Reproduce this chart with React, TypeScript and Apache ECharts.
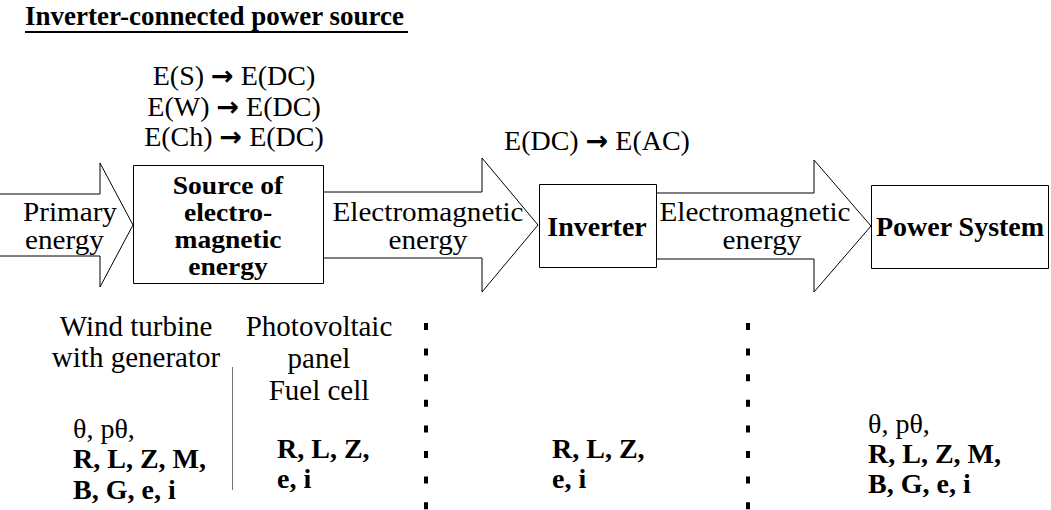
import React, { useEffect, useRef } from "react";
import * as echarts from "echarts";

// ---- Diagram content ----
const titleText = "Inverter-connected power source";
const sourceConversions = ["E(S) → E(DC)", "E(W) → E(DC)", "E(Ch) → E(DC)"];
const inverterConversion = "E(DC) → E(AC)";
const primaryLabel = ["Primary", "energy"];
const sourceBoxLabel = ["Source of", "electro-", "magnetic", "energy"];
const emLabel = ["Electromagnetic", "energy"];
const inverterLabel = "Inverter";
const powerSystemLabel = "Power System";
const windLabel = ["Wind turbine", "with generator"];
const pvLabel = ["Photovoltaic", "panel", "Fuel cell"];
const machineParams = ["θ, pθ,", "R, L, Z, M,", "B, G, e, i"];
const circuitParams = ["R, L, Z,", "e, i"];

const FF = '"Liberation Serif", "Times New Roman", serif';

const arrowRich = {
  a: { fontFamily: '"DejaVu Sans", sans-serif', fontWeight: "bold", fontSize: 27, fill: "#000" },
};

function withArrow(s: string) {
  return s.replace("→", "{a|→}");
}

function txt(text: string, x: number, y: number, opts: any = {}) {
  return {
    type: "text",
    z: 10,
    x,
    y,
    scaleX: opts.scaleX ?? 1,
    style: {
      text,
      x: 0,
      y: 0,
      fill: "#000",
      fontFamily: FF,
      fontSize: opts.size ?? 29,
      fontWeight: opts.bold ? "bold" : "normal",
      align: opts.align ?? "center",
      verticalAlign: "middle",
      ...(opts.lineHeight ? { lineHeight: opts.lineHeight } : {}),
      ...(opts.extra || {}),
    },
  };
}

function arrow(x0: number, bodyTop: number, bodyBot: number, headX: number, headTop: number, headBot: number, tipX: number, tipY: number) {
  return {
    type: "polygon",
    z: 1,
    shape: {
      points: [
        [x0, bodyTop],
        [headX, bodyTop],
        [headX, headTop],
        [tipX, tipY],
        [headX, headBot],
        [headX, bodyBot],
        [x0, bodyBot],
      ],
    },
    style: { fill: "#fff", stroke: "#000", lineWidth: 1 },
  };
}

function box(x: number, y: number, w: number, h: number) {
  return {
    type: "rect",
    z: 2,
    shape: { x: x + 0.5, y: y + 0.5, width: w, height: h },
    style: { fill: "#fff", stroke: "#000", lineWidth: 1 },
  };
}

function dashLine(x: number) {
  return {
    type: "line",
    z: 1,
    shape: { x1: x, y1: 323, x2: x, y2: 512 },
    style: { stroke: "#000", lineWidth: 4, lineDash: [7, 18.6], lineCap: "butt" },
  };
}

export default function App() {
  const ref = useRef<HTMLDivElement>(null);
  useEffect(() => {
    if (!ref.current) return;
    const chart = echarts.init(ref.current, null, { renderer: "svg" });
    const els: any[] = [];

    // title
    els.push(
      txt(titleText, 25, 16, {
        size: 27,
        bold: true,
        align: "left",
        extra: { textShadowColor: "rgba(0,0,0,0.35)", textShadowOffsetX: 1.5, textShadowOffsetY: 1.5, textShadowBlur: 0 },
      })
    );
    els.push({ type: "line", z: 9, shape: { x1: 25, y1: 32, x2: 408, y2: 32 }, style: { stroke: "#000", lineWidth: 2 } });

    // arrows
    els.push(arrow(-5, 194, 256, 100, 163, 287, 133, 225));
    els.push(arrow(323, 192, 258, 482, 158, 292, 538, 225));
    els.push(arrow(656, 193, 259, 814, 160, 292, 871, 226));

    // boxes
    els.push(box(133, 165, 190, 118));
    els.push(box(539, 184, 117, 83));
    els.push(box(871, 185, 177, 83));

    // conversions
    els.push(
      txt(sourceConversions.map(withArrow).join("\n"), 234, 106, {
        size: 28,
        lineHeight: 30.25,
        extra: { rich: arrowRich },
      })
    );
    els.push(txt(withArrow(inverterConversion), 597, 140, { size: 28, extra: { rich: arrowRich } }));

    // arrow labels
    const lab = { size: 27, scaleX: 1.08 };
    els.push(txt(primaryLabel[0], 23, 212, { ...lab, align: "left" }));
    els.push(txt(primaryLabel[1], 25, 240, { ...lab, align: "left" }));
    els.push(txt(emLabel[0], 428, 212, lab));
    els.push(txt(emLabel[1], 428, 240, lab));
    els.push(txt(emLabel[0], 755, 212, lab));
    els.push(txt(emLabel[1], 762, 240, lab));

    // box labels
    els.push(txt(sourceBoxLabel.join("\n"), 228, 226, { size: 26, bold: true, lineHeight: 27, scaleX: 1.06 }));
    els.push(txt(inverterLabel, 597, 226, { size: 28, bold: true }));
    els.push(txt(powerSystemLabel, 960, 226, { size: 28, bold: true }));

    // bottom section
    els.push(txt(windLabel.join("\n"), 136, 341.5, { lineHeight: 31 }));
    els.push(txt(pvLabel.join("\n"), 319, 358, { lineHeight: 32 }));

    els.push({ type: "line", z: 1, shape: { x1: 232.5, y1: 367, x2: 232.5, y2: 490 }, style: { stroke: "#777", lineWidth: 1 } });
    els.push(dashLine(426));
    els.push(dashLine(748));

    const leftY = [428, 458, 489];
    const rightY = [423, 453, 483];
    machineParams.forEach((t, i) => {
      els.push(txt(t, 73, leftY[i], { align: "left", bold: i > 0, size: 28 }));
      els.push(txt(t, 868, rightY[i], { align: "left", bold: i > 0, size: 28 }));
    });
    const circY = [448, 478];
    circuitParams.forEach((t, i) => {
      els.push(txt(t, 277, circY[i], { align: "left", bold: true, size: 28 }));
      els.push(txt(t, 552, circY[i], { align: "left", bold: true, size: 28 }));
    });

    chart.setOption({
      animation: false,
      backgroundColor: "#fff",
      graphic: { elements: els },
    });
    return () => chart.dispose();
  }, []);
  return (
    <div
      ref={ref}
      style={{ position: "fixed", left: 0, top: 0, width: 1051, height: 510, background: "#fff" }}
    />
  );
}
